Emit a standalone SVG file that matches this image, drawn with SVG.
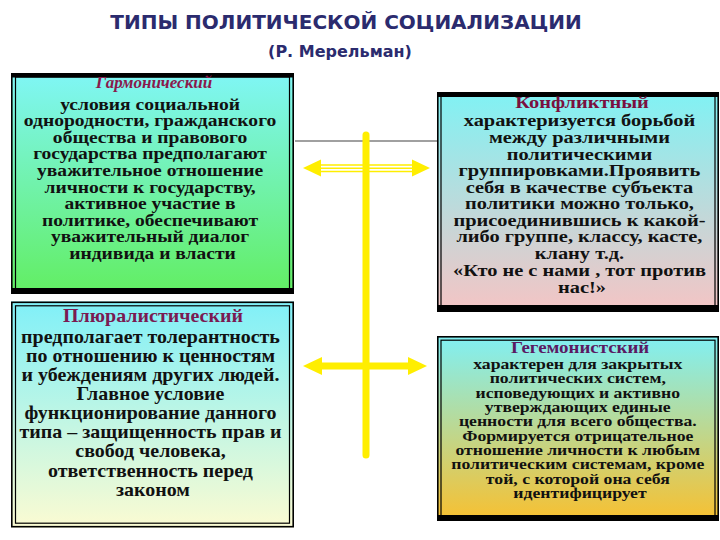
<svg xmlns="http://www.w3.org/2000/svg" width="720" height="540" viewBox="0 0 720 540">
<defs>
<linearGradient id="g1" x1="0" y1="0" x2="0" y2="1"><stop offset="0" stop-color="#80f6f6"/><stop offset="1" stop-color="#62ee62"/></linearGradient>
<linearGradient id="g2" x1="0" y1="0" x2="0" y2="1"><stop offset="0" stop-color="#80f0f8"/><stop offset="1" stop-color="#fbfbd2"/></linearGradient>
<linearGradient id="g3" x1="0" y1="0" x2="0" y2="1"><stop offset="0" stop-color="#80f2f4"/><stop offset="1" stop-color="#f5c4c4"/></linearGradient>
<linearGradient id="g4" x1="0" y1="0" x2="0" y2="1"><stop offset="0" stop-color="#80f0f4"/><stop offset="1" stop-color="#f8c030"/></linearGradient>
</defs>
<style>
.o{fill:none;stroke:#000;stroke-width:1.6}
.i{fill:none;stroke:#000;stroke-width:1.2}
.bar{fill:#000}
.t{font-family:"Liberation Serif","Times New Roman",serif;font-weight:bold;fill:#111;text-anchor:middle}
.h{font-family:"Liberation Serif","Times New Roman",serif;font-weight:bold;text-anchor:middle}
.title{font-family:"DejaVu Sans",Verdana,sans-serif;font-weight:bold;fill:#2b2b6e;text-anchor:middle}
.y{stroke:#ffee00;fill:none}
.ya{fill:#ffee00}
</style>
<text class="title" x="346" y="29" font-size="20">ТИПЫ ПОЛИТИЧЕСКОЙ СОЦИАЛИЗАЦИИ</text>
<text class="title" x="340" y="57" font-size="16">(Р. Мерельман)</text>

<g id="connectors">
<line x1="295" y1="141" x2="437" y2="141" stroke="#a0a0a0" stroke-width="2"/>
<line class="y" x1="366" y1="135" x2="366" y2="455" stroke-width="7" stroke-linecap="round"/>
<g id="arrow-top">
<line x1="318" y1="165" x2="415" y2="165" stroke="#ffee00" stroke-width="1.5"/>
<line x1="318" y1="168.3" x2="415" y2="168.3" stroke="#ffee00" stroke-width="1.5"/>
<line x1="318" y1="171.6" x2="415" y2="171.6" stroke="#ffee00" stroke-width="1.5"/>
<polygon class="ya" points="303,168 321,159.5 321,176.5"/>
<polygon class="ya" points="430,168 412,159.5 412,176.5"/>
</g>
<g id="arrow-bottom">
<line x1="318" y1="366" x2="412" y2="366" stroke="#ffee00" stroke-width="7"/>
<polygon class="ya" points="303,366 322,357 322,375"/>
<polygon class="ya" points="427,366 408,357 408,375"/>
</g>
</g>

<g id="box-garmon">
<rect x="11" y="73" width="283" height="221" fill="url(#g1)"/>
<rect class="o" x="11.8" y="73.8" width="281.4" height="219.4"/>
<rect class="i" x="15.5" y="77" width="274" height="213"/>
<rect class="bar" x="11" y="73" width="283" height="4.5"/>
<rect class="bar" x="11" y="288" width="283" height="6"/>
<text class="h" x="154" y="88" font-size="17" font-style="italic" font-weight="normal" fill="#8a1a4c">Гармонический</text>
<g transform="translate(152.5 0) scale(1.15 1)">
<text class="t" font-size="17">
<tspan x="0" y="110">условия социальной</tspan>
<tspan x="0" y="126.5">однородности, гражданского</tspan>
<tspan x="0" y="143">общества и правового</tspan>
<tspan x="0" y="159.5">государства предполагают</tspan>
<tspan x="0" y="176">уважительное отношение</tspan>
<tspan x="0" y="193">личности к государству,</tspan>
<tspan x="0" y="209.5">активное участие в</tspan>
<tspan x="0" y="226">политике, обеспечивают</tspan>
<tspan x="0" y="242.5">уважительный диалог</tspan>
<tspan x="0" y="259">индивида и власти</tspan>
</text>
</g>
</g>

<g id="box-plural">
<rect x="11" y="301.5" width="283" height="226" fill="url(#g2)"/>
<rect class="o" x="11.8" y="302.3" width="281.4" height="224.4"/>
<rect class="i" x="15.5" y="305.8" width="274" height="217.4"/>
<g transform="translate(153 0) scale(1.11 1)">
<text class="h" x="0" y="322" font-size="18" fill="#7a1a52">Плюралистический</text>
<text class="t" font-size="18">
<tspan x="0" y="343">предполагает толерантность</tspan>
<tspan x="0" y="362">по отношению к ценностям</tspan>
<tspan x="0" y="381">и убеждениям других людей.</tspan>
<tspan x="0" y="400.5">Главное условие</tspan>
<tspan x="0" y="419.5">функционирование данного</tspan>
<tspan x="0" y="438.5">типа – защищенность прав и</tspan>
<tspan x="0" y="457.5">свобод человека,</tspan>
<tspan x="0" y="477">ответственность перед</tspan>
<tspan x="0" y="496">законом</tspan>
</text>
</g>
</g>

<g id="box-conflict">
<rect x="437" y="92" width="282" height="220" fill="url(#g3)"/>
<rect class="o" x="437.8" y="92.8" width="280.4" height="218.4"/>
<rect class="i" x="441" y="96" width="274" height="212"/>
<rect class="bar" x="437" y="92" width="282" height="5"/>
<rect class="bar" x="437" y="305" width="282" height="7"/>
<g transform="translate(582 0) scale(1.2 1)">
<text class="h" x="0" y="108.5" font-size="17" fill="#7a1040">Конфликтный</text>
<text class="t" font-size="17">
<tspan x="0" y="126.5">характеризуется борьбой</tspan>
<tspan x="0" y="143">между различными</tspan>
<tspan x="0" y="160">политическими</tspan>
<tspan x="0" y="176.5">группировками.Проявить</tspan>
<tspan x="0" y="193">себя в качестве субъекта</tspan>
<tspan x="0" y="209.5">политики можно только,</tspan>
<tspan x="0" y="226">присоединившись к какой-</tspan>
<tspan x="0" y="242.5">либо группе, классу, касте,</tspan>
<tspan x="0" y="259">клану т.д.</tspan>
<tspan x="0" y="276">«Кто не с нами , тот против</tspan>
<tspan x="0" y="293">нас!»</tspan>
</text>
</g>
</g>

<g id="box-hegemon">
<rect x="437" y="336" width="282" height="185" fill="url(#g4)"/>
<rect class="o" x="437.8" y="336.8" width="280.4" height="183.4"/>
<rect class="i" x="441" y="340.2" width="274" height="176"/>
<rect class="bar" x="437" y="515" width="282" height="6"/>
<g transform="translate(580 0) scale(1.18 1)">
<text class="h" x="0" y="353" font-size="16" fill="#5a1a62">Гегемонистский</text>
<text class="t" font-size="15">
<tspan x="0" y="369">характерен для закрытых</tspan>
<tspan x="0" y="383.3">политических систем,</tspan>
<tspan x="0" y="397.6">исповедующих и активно</tspan>
<tspan x="0" y="412">утверждающих единые</tspan>
<tspan x="0" y="426.3">ценности для всего общества.</tspan>
<tspan x="0" y="440.6">Формируется отрицательное</tspan>
<tspan x="0" y="455">отношение личности к любым</tspan>
<tspan x="0" y="469.3">политическим системам, кроме</tspan>
<tspan x="0" y="483.6">той, с которой она себя</tspan>
<tspan x="0" y="498">идентифицирует</tspan>
</text>
</g>
</g>
</svg>
